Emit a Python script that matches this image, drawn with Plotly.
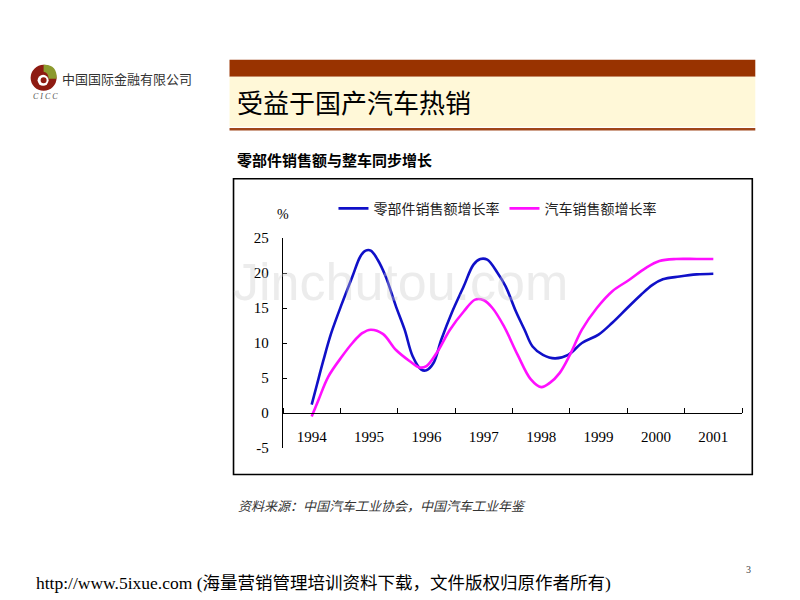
import plotly.graph_objects as go

# ---------------- data (x = years since 1994, category centres) ----------------
years = ["1994", "1995", "1996", "1997", "1998", "1999", "2000", "2001"]
y_ticks = [-5, 0, 5, 10, 15, 20, 25]
y_tick_text = ["-5", "0", "5", "10", "15", "20", "25"]

parts_x = [0.0, 0.09, 0.2, 0.34, 0.53, 0.71, 0.85, 0.94, 1.03, 1.15, 1.29, 1.47, 1.62,
           1.76, 1.91, 2.0, 2.12, 2.26, 2.44, 2.65, 2.82, 2.94, 3.06, 3.24, 3.38, 3.56,
           3.71, 3.85, 4.03, 4.24, 4.47, 4.71, 5.0, 5.24, 5.5, 5.74, 5.94, 6.12, 6.41,
           6.71, 7.0]
parts_y = [1.2, 4.0, 7.4, 11.4, 15.7, 19.5, 22.4, 23.2, 23.2, 21.9, 19.5, 15.2, 11.9,
           8.1, 6.2, 6.1, 7.1, 10.5, 14.3, 18.1, 21.2, 22.0, 21.9, 20.0, 18.1, 14.5,
           11.9, 9.5, 8.3, 7.8, 8.3, 10.0, 11.2, 12.9, 15.0, 16.9, 18.3, 19.1, 19.5,
           19.8, 19.9]

car_x = [0.0, 0.12, 0.29, 0.53, 0.71, 0.88, 1.03, 1.24, 1.47, 1.71, 1.88, 2.0, 2.18,
         2.41, 2.65, 2.85, 3.0, 3.15, 3.35, 3.59, 3.82, 4.0, 4.15, 4.32, 4.5, 4.71,
         4.97, 5.24, 5.53, 5.82, 6.06, 6.35, 6.71, 7.0]
car_y = [-0.5, 1.9, 5.2, 8.1, 10.0, 11.4, 11.9, 11.3, 9.0, 7.4, 6.5, 6.7, 8.6,
         11.9, 14.5, 16.2, 16.1, 15.0, 12.4, 8.3, 4.8, 3.7, 4.3, 5.7, 8.3, 11.9,
         15.0, 17.4, 19.0, 20.7, 21.7, 22.0, 22.0, 22.0]

parts_name = "零部件销售额增长率"
car_name = "汽车销售额增长率"

# ---------------- geometry helpers (page pixel -> paper) ----------------
OFF = 8  # page body margin
PL, PR, PT, PB = 282.5, 741.7, 238.3, 448.5
PW, PH = PR - PL, PB - PT


def fx(px):
    return (px - PL) / PW


def fy(py):
    return (PB - py) / PH


CJK = "Noto Sans CJK SC"
SERIF = "Liberation Serif, Times New Roman, serif"

fig = go.Figure()
fig.add_trace(go.Scatter(x=parts_x, y=parts_y, name=parts_name, mode="lines",
                         line=dict(color="#1010C8", width=2.6, shape="spline", smoothing=1.0)))
fig.add_trace(go.Scatter(x=car_x, y=car_y, name=car_name, mode="lines",
                         line=dict(color="#FF10FF", width=2.6, shape="spline", smoothing=1.0)))

shapes = []
# banner
shapes.append(dict(type="rect", xref="paper", yref="paper", x0=fx(229), x1=fx(755),
                   y0=fy(77), y1=fy(60), fillcolor="#993300", line=dict(width=0), layer="below"))
shapes.append(dict(type="rect", xref="paper", yref="paper", x0=fx(229), x1=fx(755),
                   y0=fy(127), y1=fy(77), fillcolor="#FFF8D8", line=dict(width=0), layer="below"))
shapes.append(dict(type="line", xref="paper", yref="paper", x0=fx(229), x1=fx(755),
                   y0=fy(129.5), y1=fy(129.5), line=dict(color="#A0461A", width=2.5)))
# chart frame
shapes.append(dict(type="rect", xref="paper", yref="paper", x0=fx(233), x1=fx(752),
                   y0=fy(475), y1=fy(179), line=dict(color="black", width=1.6),
                   fillcolor="rgba(0,0,0,0)", layer="below"))
# logo
cx, cy, r = 43, 78, 13
shapes.append(dict(type="circle", xref="paper", yref="paper", x0=fx(cx - r), x1=fx(cx + r),
                   y0=fy(cy + r), y1=fy(cy - r), fillcolor="#8E1B12", line=dict(width=0)))
shapes.append(dict(type="path", xref="paper", yref="paper",
                   path=(f"M {fx(cx)} {fy(cy - r)} "
                         f"Q {fx(cx + r * 1.05)} {fy(cy - r * 1.05)} {fx(cx + r)} {fy(cy + 1)} "
                         f"L {fx(cx + 5)} {fy(cy + 1)} "
                         f"Q {fx(cx + 5)} {fy(cy - 5)} {fx(cx)} {fy(cy - 6)} Z"),
                   fillcolor="#8C9A2E", line=dict(width=0)))
shapes.append(dict(type="circle", xref="paper", yref="paper", x0=fx(cx - 6), x1=fx(cx + 5),
                   y0=fy(cy + 8), y1=fy(cy - 3), fillcolor="white", line=dict(width=0)))
shapes.append(dict(type="circle", xref="paper", yref="paper", x0=fx(cx - 3), x1=fx(cx + 3),
                   y0=fy(cy + 5.5), y1=fy(cy - 0.5), fillcolor="#8E1B12", line=dict(width=0)))

annotations = []


def txt(x, y, s, size, font=CJK, color="black", anchor="left", yanchor="middle", bold=False,
        italic=False):
    if bold:
        s = f"<b>{s}</b>"
    if italic:
        s = f"<i>{s}</i>"
    annotations.append(dict(xref="paper", yref="paper", x=fx(x), y=fy(y), text=s,
                            showarrow=False, xanchor=anchor, yanchor=yanchor,
                            font=dict(family=font, size=size, color=color)))


txt(59, 79, "中国国际金融有限公司", 13, color="#333333")
txt(30, 97, "C I C C", 8, font=SERIF, color="#555555", italic=True)
txt(234, 102, "受益于国产汽车热销", 26, color="black")
txt(234, 160, "零部件销售额与整车同步增长", 15, bold=True)
txt(282, 215, "%", 14, font=SERIF, anchor="center")
txt(235, 506, "资料来源：中国汽车工业协会，中国汽车工业年鉴", 13, color="#333333", italic=True)
txt(33, 584, "http://www.5ixue.com (海量营销管理培训资料下载，文件版权归原作者所有)", 17.5,
    font="Liberation Serif, Noto Sans CJK SC", color="black")
txt(748, 570, "3", 10, font=SERIF, color="#444444", anchor="center")
# watermark
txt(400, 282, "Jinchutou.com", 52, font="Liberation Sans, Arial, sans-serif",
    color="rgba(200,200,200,0.35)", anchor="center")

fig.update_layout(
    width=800 - OFF, height=600 - OFF,
    margin=dict(l=PL - OFF, r=800 - PR, t=PT - OFF, b=600 - PB),
    paper_bgcolor="white", plot_bgcolor="rgba(0,0,0,0)",
    showlegend=True,
    legend=dict(orientation="h", x=fx(333), y=fy(209), xanchor="left", yanchor="middle",
                font=dict(family=CJK, size=14, color="#222222"), itemwidth=30,
                bgcolor="rgba(0,0,0,0)", tracegroupgap=0),
    xaxis=dict(range=[-0.5, 7.5], tickmode="array", tickvals=list(range(len(years))),
               ticktext=years, ticks="", showgrid=False, zeroline=False,
               showline=True, linecolor="black", linewidth=1.3,
               anchor="free", position=(0 - (-5)) / 30,
               ticklabelstandoff=10,
               tickfont=dict(family=SERIF, size=15, color="black"),
               minor=dict(tickmode="linear", tick0=-0.5, dtick=1, ticks="inside",
                          ticklen=5, tickcolor="black", tickwidth=1.3, showgrid=False)),
    yaxis=dict(range=[-5, 25], tickmode="array", tickvals=y_ticks, ticktext=y_tick_text,
               ticks="inside", ticklen=4, tickcolor="black", tickwidth=1.3,
               showgrid=False, zeroline=False, showline=True, linecolor="black",
               linewidth=1.3, ticklabelstandoff=10,
               tickfont=dict(family=SERIF, size=15, color="black")),
    shapes=shapes, annotations=annotations,
)

fig.write_html("out.html")
